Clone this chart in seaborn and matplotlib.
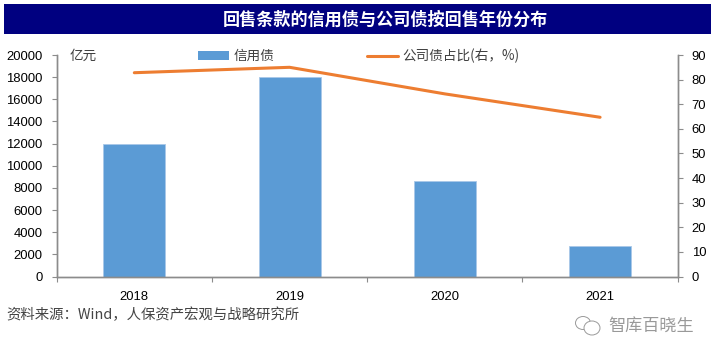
import matplotlib
matplotlib.use("Agg")
import matplotlib.pyplot as plt
import seaborn as sns
from matplotlib.patches import Rectangle, Patch, Ellipse
from matplotlib.lines import Line2D

years = ["2018", "2019", "2020", "2021"]
credit_bonds = [12000, 18000, 8600, 2750]
corp_share = [82.8, 85.0, 74.2, 64.7]
title = "回售条款的信用债与公司债按回售年份分布"
source = "资料来源：Wind，人保资产宏观与战略研究所"
watermark = "智库百晓生"

sns.set_theme(style="white")
CJK = ["Noto Sans CJK SC", "DejaVu Sans"]
plt.rcParams["font.family"] = ["Liberation Sans", "Noto Sans CJK SC", "DejaVu Sans"]

W, H = 715, 357
BLUE, ORANGE, GREY = "#5B9BD5", "#ED7D31", "#8C8C8C"

fig = plt.figure(figsize=(W / 100, H / 100), dpi=100, facecolor="white")
ax = fig.add_axes([56.7 / W, 1 - 276.5 / H, (677.7 - 56.7) / W, (276.5 - 55) / H])

sns.barplot(x=years, y=credit_bonds, ax=ax, color=BLUE, saturation=1, width=0.4,
            edgecolor="#A9C8E8", linewidth=0.6, errorbar=None)
ax.set_xlim(-0.5, 3.5)
ax.set_ylim(0, 20000)
ax.set_yticks(range(0, 20001, 2000))

ax2 = ax.twinx()
sns.lineplot(x=years, y=corp_share, ax=ax2, color=ORANGE, linewidth=2.2, errorbar=None)
ax2.set_xlim(-0.5, 3.5)
ax2.set_ylim(0, 90)
ax2.set_yticks(range(0, 91, 10))

for a in (ax, ax2):
    a.grid(False)
    a.spines["top"].set_visible(False)
    for s in ("left", "right", "bottom"):
        a.spines[s].set_color(GREY)
        a.spines[s].set_linewidth(1.0)
    a.tick_params(axis="y", length=3.6, width=0.8, color=GREY, labelsize=9.4,
                  labelcolor="black", pad=6.5, left=a is ax, right=a is ax2)

ax.set_xticks([0, 1, 2, 3])
ax.set_xticklabels(years)
ax.set_xticks([-0.5, 0.5, 1.5, 2.5, 3.5], minor=True)
ax.tick_params(axis="x", which="major", length=0, labelsize=9.4, labelcolor="black", pad=10.2)
ax.tick_params(axis="x", which="minor", length=3.6, width=0.8, color=GREY, bottom=True)
ax2.tick_params(axis="x", length=0)
ax2.set_xlabel("")

handles = [Patch(facecolor=BLUE, edgecolor="none"), Line2D([], [], color=ORANGE, linewidth=2.2)]
labels = ["信用债", "公司债占比(右，%)"]
leg = fig.legend(handles, labels, ncol=2, loc="center left",
                 bbox_to_anchor=(198 / W, 1 - 56 / H), frameon=False,
                 prop={"family": CJK, "size": 9.8}, labelcolor="#404040",
                 handlelength=2.3, handleheight=0.65, handletextpad=0.3, columnspacing=6.8,
                 borderpad=0, borderaxespad=0)

fig.text(70 / W, 1 - 56 / H, "亿元", family=CJK, fontsize=9.8, color="#404040", va="center", ha="left")

fig.add_artist(Rectangle((4 / W, 1 - 34 / H), 707 / W, 30 / H, transform=fig.transFigure,
                         facecolor="#000080", edgecolor="none"))
fig.text(385 / W, 1 - 19.5 / H, title, family=CJK, fontsize=12.3, fontweight="bold",
         color="white", ha="center", va="center")
fig.text(6 / W, 1 - 314.5 / H, source, family=CJK, fontsize=10.35, color="#444444", ha="left", va="center")
fig.text(608 / W, 1 - 327 / H, watermark, family=CJK, fontsize=12.3, color="#999999", ha="left", va="center")

for cx, cy, w, h in [(583, 323, 15, 13), (592, 328, 16, 14)]:
    fig.add_artist(Ellipse((cx / W, 1 - cy / H), w / W, h / H, transform=fig.transFigure,
                           facecolor="white", edgecolor="#9A9A9A", linewidth=0.7))

fig.savefig("out.png", dpi=100)
